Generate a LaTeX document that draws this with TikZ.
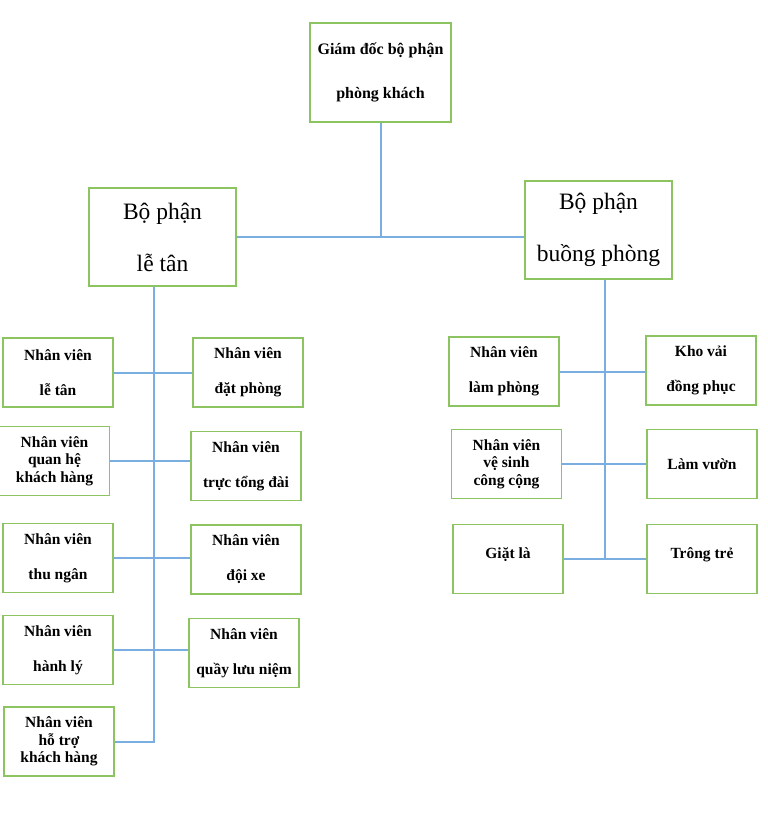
\documentclass[tikz,border=0pt]{standalone}
\usepackage{fontspec}
\setmainfont{Liberation Serif}
\usepackage{tikz}
\definecolor{green400}{HTML}{8DC462}
\definecolor{blue300}{HTML}{7AAEE0}
\tikzstyle{giamdoc}=[rectangle, draw=green400, line width=1.8pt, align=center, minimum width=141pt, minimum height=99pt, inner sep=0pt, font={\fontsize{16}{44}\selectfont\bfseries}]
\tikzstyle{bophan}=[rectangle, draw=green400, line width=1.8pt, align=center, minimum width=147pt, minimum height=98pt, inner sep=0pt, font={\fontsize{23.5}{52}\selectfont}]
\tikzstyle{nhanvien}=[rectangle, draw=green400, line width=1.8pt, align=center, minimum width=110pt, minimum height=69pt, inner sep=0pt, font={\fontsize{15.5}{35}\selectfont\bfseries}]
\tikzstyle{nhanvienba}=[nhanvien, font={\fontsize{15.5}{17.5}\selectfont\bfseries}]
\tikzstyle{noi}=[draw=blue300, line width=2pt]

\begin{document}
\begin{tikzpicture}[x=1pt, y=-1pt]
			\useasboundingbox (0,0) rectangle (768,827);
			\node[giamdoc] (gd) at (380.5,72.5) {Giám đốc bộ phận\\phòng khách};
			\node[bophan] (lt) at (162.5,237) {Bộ phận\\lễ tân};
			\node[bophan] (bp) at (598.5,230) {Bộ phận\\buồng phòng};
			% bo phan le tan
			\node[nhanvien] (lt1) at (58,372.5) {Nhân viên\\lễ tân};
			\node[nhanvienba] (lt2) at (54.5,461) {Nhân viên\\quan hệ\\khách hàng};
			\node[nhanvien] (lt3) at (58,558) {Nhân viên\\thu ngân};
			\node[nhanvien] (lt4) at (58,650) {Nhân viên\\hành lý};
			\node[nhanvienba] (lt5) at (59,741.5) {Nhân viên\\hỗ trợ\\khách hàng};
			\node[nhanvien] (lt6) at (248,372.5) {Nhân viên\\đặt phòng};
			\node[nhanvien] (lt7) at (246,466) {Nhân viên\\trực tổng đài};
			\node[nhanvien] (lt8) at (246,559.5) {Nhân viên\\đội xe};
			\node[nhanvien] (lt9) at (244,653) {Nhân viên\\quầy lưu niệm};
			% bo phan buong phong
			\node[nhanvien] (bp1) at (504,371.5) {Nhân viên\\làm phòng};
			\node[nhanvienba] (bp2) at (506.5,464) {Nhân viên\\vệ sinh\\công cộng};
			\node[nhanvien] (bp3) at (508,559) {Giặt là\\[-23pt]\mbox{}};
			\node[nhanvien] (bp4) at (701,370.5) {Kho vải\\đồng phục};
			\node[nhanvien] (bp5) at (702,464) {Làm vườn};
			\node[nhanvien] (bp6) at (702,559) {Trông trẻ\\[-23pt]\mbox{}};
			\coordinate (ltg) at ([xshift=-8.5pt]lt.south);
			\coordinate (bpg) at ([xshift=6pt]bp.south);
			\path[noi]
				(gd.south)--(gd.south |- lt.east)
				(lt.east)--(lt.east -| bp.west);
			\path[noi]
				(ltg)--(ltg |- lt5.east)--(lt5.east)
				(lt1.east)--(lt1.east -| lt6.west)
				(lt2.east)--(lt2.east -| lt7.west)
				(lt3.east)--(lt3.east -| lt8.west)
				(lt4.east)--(lt4.east -| lt9.west);
			\path[noi]
				(bpg)--(bpg |- bp3.east)
				(bp1.east)--(bp1.east -| bp4.west)
				(bp2.east)--(bp2.east -| bp5.west)
				(bp3.east)--(bp3.east -| bp6.west);
		\end{tikzpicture}
\end{document}
